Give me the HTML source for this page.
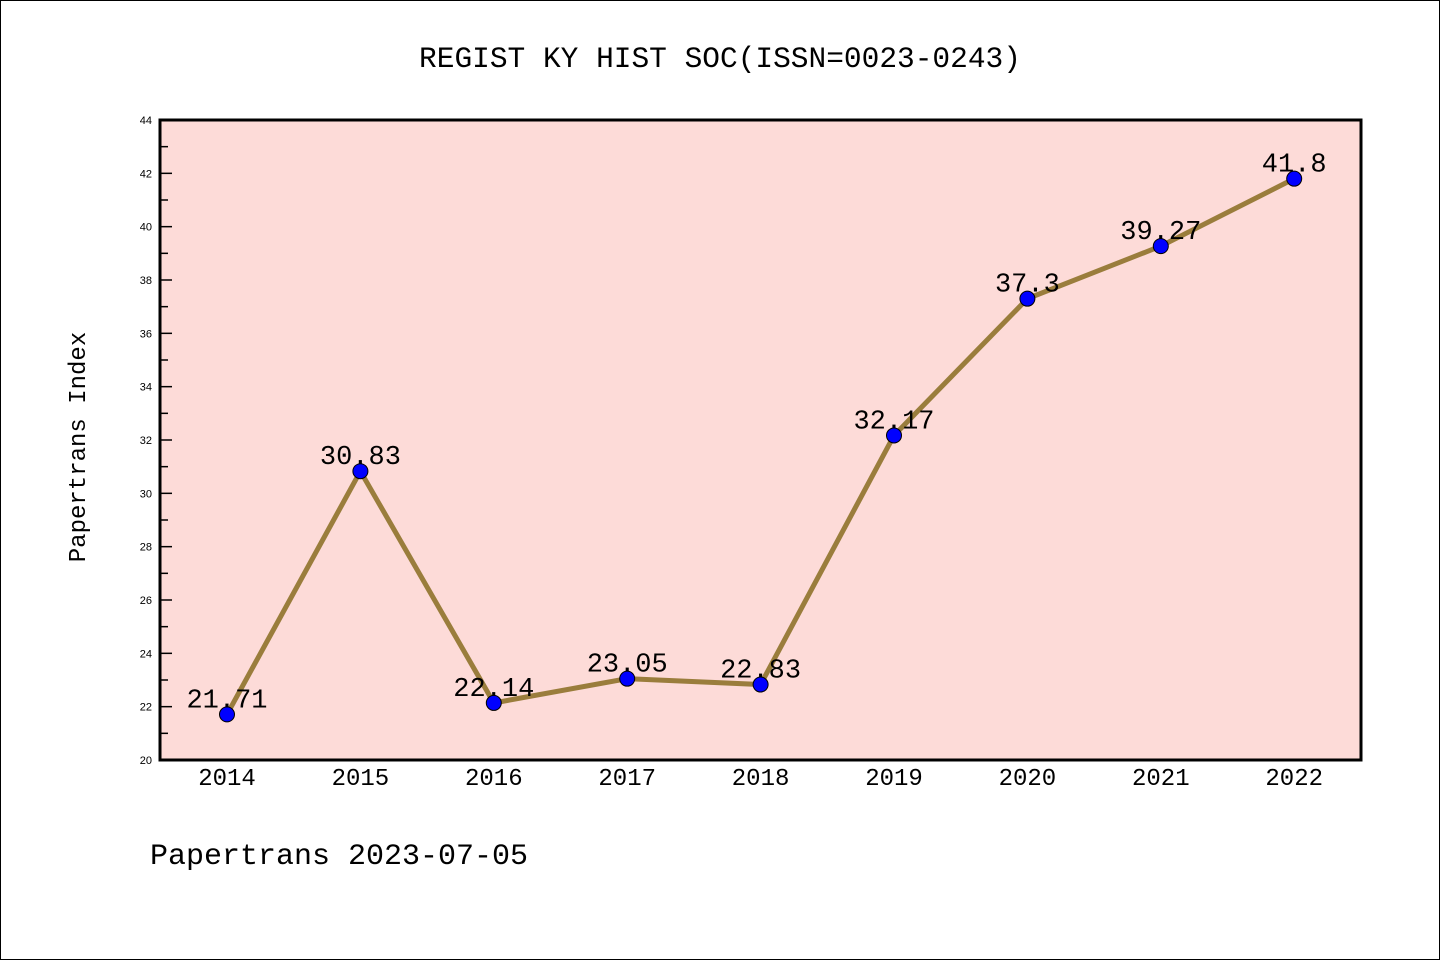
<!DOCTYPE html>
<html><head><meta charset="utf-8"><style>
html,body{margin:0;padding:0;background:#fff}
svg{display:block}
text{font-family:"Liberation Mono","WenQuanYi Zen Hei",monospace}
</style></head><body>
<svg id="chart" width="1440" height="960">
<rect x="0.5" y="0.5" width="1439" height="959" fill="#fff" stroke="#000"/>
<text x="720" y="67" text-anchor="middle" font-size="29.5">REGIST KY HIST SOC(ISSN=0023-0243)</text>
<rect x="160" y="120" width="1201" height="640" fill="#fddbd8"/>
<g id="ticks"></g>
<g id="series"></g>
<rect x="160" y="120" width="1201" height="640" fill="none" stroke="#000" stroke-width="3"/>
<text transform="translate(85,447) rotate(-90)" text-anchor="middle" font-size="24">Papertrans Index</text>
<text x="150" y="864" font-size="30">Papertrans 2023-07-05</text>
</svg>
<script>
const years = ["2014","2015","2016","2017","2018","2019","2020","2021","2022"];
const values = [21.71,30.83,22.14,23.05,22.83,32.17,37.3,39.27,41.8];
const labels = ["21.71","30.83","22.14","23.05","22.83","32.17","37.3","39.27","41.8"];
const yTicks = [20,22,24,26,28,30,32,34,36,38,40,42,44];
const NS="http://www.w3.org/2000/svg";
const yMin=20,yMax=44,plotTop=120,plotBot=760;
function ys(v){return plotBot-(v-yMin)/(yMax-yMin)*(plotBot-plotTop);}
function xs(i){return 227+i*133.4;}
function mk(t,a,p){const e=document.createElementNS(NS,t);for(const k in a)e.setAttribute(k,a[k]);p.appendChild(e);return e;}
const tg=document.getElementById('ticks'), sg=document.getElementById('series');
yTicks.forEach((v,i)=>{
  const y=ys(v);
  const l=mk('line',{x1:160,x2:172,y1:y,y2:y,stroke:'#000','stroke-width':1.5},tg);
  
  
  const t=mk('text',{x:152,y:y+4,'text-anchor':'end','font-size':11,style:'font-family:"Liberation Sans",sans-serif'},tg);
  t.textContent=v;
  
  
  if(i<yTicks.length-1){
    const ym=ys(v+1);
    const m=mk('line',{x1:160,x2:168,y1:ym,y2:ym,stroke:'#000','stroke-width':1.5},tg);
    
    
  }
});
years.forEach((yr,i)=>{
  const t=mk('text',{x:xs(i),y:785,'text-anchor':'middle','font-size':24},tg);
  t.textContent=yr;
  
  
});
const pl=mk('polyline',{points:values.map((v,i)=>xs(i)+','+ys(v)).join(' '),fill:'none',stroke:'#9a7d3c','stroke-width':5},sg);


values.forEach((v,i)=>{
  const c=mk('circle',{cx:xs(i),cy:ys(v),r:7.5,fill:'#0000ff',stroke:'#000','stroke-width':1},sg);
  
  
  const t=mk('text',{x:xs(i),y:ys(v)-7,'text-anchor':'middle','font-size':27},sg);
  t.textContent=labels[i];
  
  
});
</script>
</body></html>
